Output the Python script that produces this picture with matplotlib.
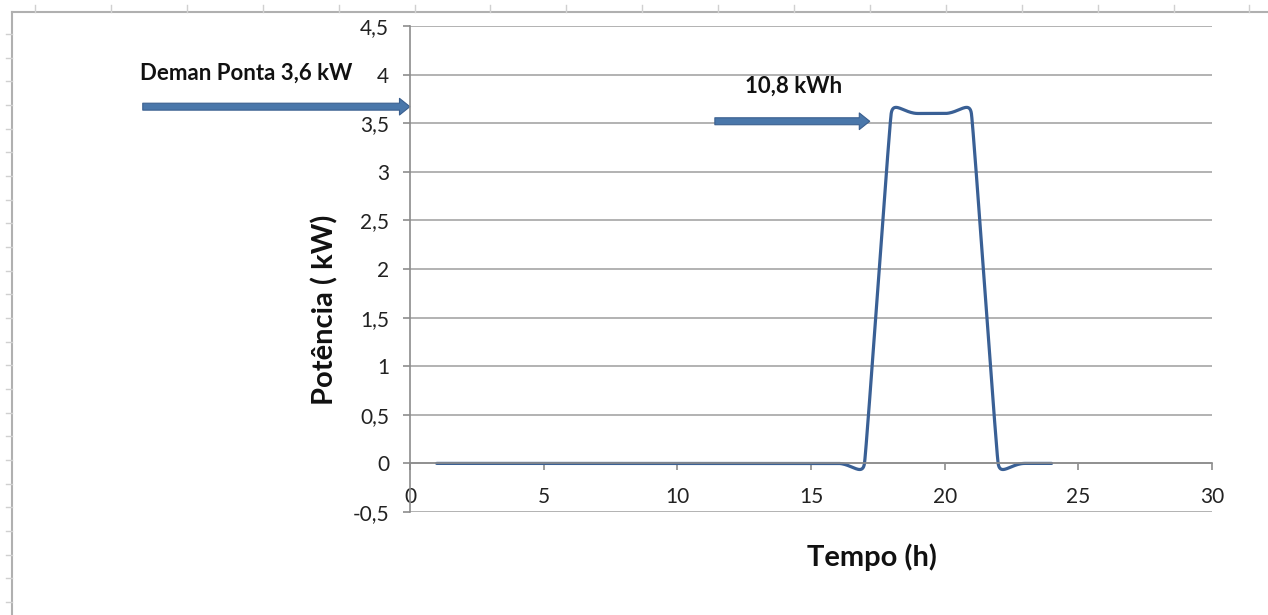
import numpy as np
import matplotlib
matplotlib.use("Agg")
from matplotlib import pyplot as plt
from matplotlib.ticker import FuncFormatter
from matplotlib.patches import FancyArrowPatch
from matplotlib.lines import Line2D

# hourly power profile (kW)
hours = list(range(1, 25))
power = [0] * 17 + [3.6, 3.6, 3.6, 3.6] + [0, 0, 0]

x_ticks = [0, 5, 10, 15, 20, 25, 30]
y_ticks = [-0.5, 0, 0.5, 1, 1.5, 2, 2.5, 3, 3.5, 4, 4.5]

line_col = '#3a6095'
grid_col = '#a6a6a6'
arrow_face = '#4a77aa'
arrow_edge = '#3a5f8f'
plt.rcParams['font.family'] = ['Lato', 'DejaVu Sans']


def excel_smooth(x, y, aspect, f=0.52, n=40):
    # bezier smoothing in screen-like space, similar to excel "smoothed line"
    pts = np.column_stack([np.asarray(x, float), np.asarray(y, float) * aspect])
    N = len(pts)
    tang = []
    for i in range(N):
        pm = pts[max(i - 1, 0)]
        pn = pts[min(i + 1, N - 1)]
        t = pn - pm
        tang.append(t / np.hypot(*t))
    out = [pts[0]]
    for i in range(N - 1):
        p0, p1 = pts[i], pts[i + 1]
        # control arm length limited by the shortest neighbouring segment
        d = [np.hypot(*(pts[j + 1] - pts[j])) for j in range(max(i - 1, 0), min(i + 2, N - 1))]
        dm0 = min(np.hypot(*(p1 - p0)), np.hypot(*(p0 - pts[max(i - 1, 0)])) or 1e9)
        dm1 = min(np.hypot(*(p1 - p0)), np.hypot(*(pts[min(i + 2, N - 1)] - p1)) or 1e9)
        c1 = p0 + tang[i] * f * dm0
        c2 = p1 - tang[i + 1] * f * dm1
        t = np.linspace(0, 1, n)[1:, None]
        seg = ((1 - t) ** 3) * p0 + 3 * ((1 - t) ** 2) * t * c1 + 3 * (1 - t) * t ** 2 * c2 + t ** 3 * p1
        out.extend(seg)
    out = np.array(out)
    return out[:, 0], out[:, 1] / aspect


fig = plt.figure(figsize=(12.68, 6.15), dpi=100)
ax = fig.add_axes([410 / 1268, 1 - 512 / 615, 802 / 1268, 486 / 615])

ax.set_xlim(0, 30)
ax.set_ylim(-0.5, 4.5)
ax.set_yticks(y_ticks)
ax.set_xticks(x_ticks)
fmt = FuncFormatter(lambda v, p: ('%g' % v).replace('.', ','))
ax.xaxis.set_major_formatter(fmt)
ax.yaxis.set_major_formatter(fmt)

ax.grid(axis='y', color=grid_col, lw=1.2)
ax.set_axisbelow(True)
for s in ['top', 'right']:
    ax.spines[s].set_visible(False)
ax.spines['left'].set_color('#8c8c8c')
ax.spines['left'].set_linewidth(1.2)
ax.spines['bottom'].set_position(('data', 0))
ax.spines['bottom'].set_color('#8c8c8c')
ax.spines['bottom'].set_linewidth(1.2)
ax.tick_params(axis='y', length=5, width=1.2, color='#8c8c8c', pad=10, labelsize=15, labelcolor='#222222')
ax.tick_params(axis='x', length=5, width=1.2, color='#8c8c8c', pad=12, labelsize=15, labelcolor='#222222')

aspect = (486 / 5) / (802 / 30)
sx, sy = excel_smooth(hours, power, aspect)
ax.plot(sx, sy, color=line_col, lw=2.3, solid_capstyle='round')

# arrows
arr_style = 'simple,head_length=0.75,head_width=1.2,tail_width=0.5'
for (xa, xb, ya) in [(-10.1, 0.1, 3.67), (11.3, 17.3, 3.52)]:
    a = FancyArrowPatch((xa, ya), (xb, ya), arrowstyle=arr_style, mutation_scale=10,
                        fc=arrow_face, ec=arrow_edge, lw=0.8, clip_on=False)
    ax.add_patch(a)

fig.text(140 / 1268, 1 - 73 / 615, 'Deman Ponta 3,6 kW', fontsize=16, fontweight='bold',
         ha='left', va='center', color='#111111')
fig.text(794 / 1268, 1 - 86 / 615, '10,8 kWh', fontsize=16, fontweight='bold',
         ha='center', va='center', color='#111111')

fig.text(872 / 1268, 1 - 557 / 615, 'Tempo (h)', fontsize=21, fontweight='bold',
         ha='center', va='center', color='#111111')
fig.text(325 / 1268, 1 - 310 / 615, 'Potência ( kW)', fontsize=21, fontweight='bold',
         ha='center', va='center', rotation=90, color='#111111')

# sheet border remnants
fig.add_artist(Line2D([12 / 1268, 1], [1 - 12 / 615] * 2, color='#b0b0b0', lw=1.5))
fig.add_artist(Line2D([12 / 1268] * 2, [0, 1 - 12 / 615], color='#b0b0b0', lw=1.5))
for px in np.arange(35, 1268, 75.9):
    fig.add_artist(Line2D([px / 1268] * 2, [1 - 5 / 615, 1 - 12 / 615], color='#d0d0d0', lw=1))
for py in np.arange(34, 615, 23.67):
    fig.add_artist(Line2D([6 / 1268, 12 / 1268], [1 - py / 615] * 2, color='#d0d0d0', lw=1))

fig.savefig('out.png', dpi=100)
